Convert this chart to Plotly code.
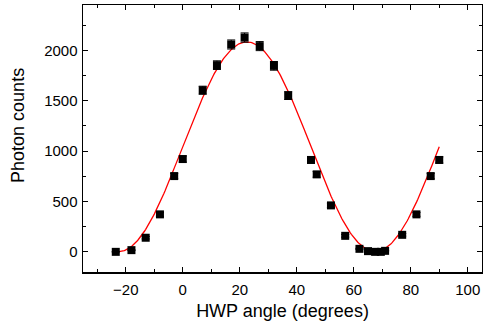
import numpy as np
import plotly.graph_objects as go

# Measured data
angles = [-23.5, -18, -13, -8, -3, 0, 7, 12, 17, 21.7, 27, 32, 37,
          45, 47, 52, 57, 62, 65, 67.5, 69.5, 71, 77, 82, 87, 90]
counts = [0, 17, 140, 372, 752, 921, 1604, 1853, 2058, 2127, 2042, 1846, 1551,
          912, 769, 461, 159, 30, 7, 0, 0, 10, 169, 372, 752, 912]
errors = [0, 4, 12, 19, 27, 30, 40, 43, 45, 46, 45, 43, 39,
          30, 28, 21, 13, 5, 3, 0, 0, 3, 13, 19, 27, 30]

# Fit parameters (Malus-type fit)
fit_amp = 2080
fit_center = 22.5
fit_offset = 3
fit_start, fit_end = -22.4, 90

x_fit = np.linspace(fit_start, fit_end, 300)
y_fit = fit_amp * np.cos(np.radians(2 * (x_fit - fit_center))) ** 2 + fit_offset

fig = go.Figure()
fig.add_trace(go.Scatter(
    x=x_fit, y=y_fit, mode="lines",
    line=dict(color="#ff0000", width=1.3),
    showlegend=False, hoverinfo="skip"))
fig.add_trace(go.Scatter(
    x=angles, y=counts, mode="markers",
    marker=dict(symbol="square", size=8, color="black"),
    error_y=dict(type="data", array=errors, visible=True,
                 color="black", thickness=1, width=4),
    showlegend=False))

font_family = "Liberation Sans, Arial, sans-serif"
axis_common = dict(
    showline=True, linecolor="black", linewidth=1.5, mirror="allticks",
    ticks="inside", ticklen=5, tickwidth=1, tickcolor="black",
    showgrid=False, zeroline=False, automargin=False,
    tickfont=dict(family=font_family, size=15, color="black"),
)

fig.update_layout(
    width=483, height=324,
    margin=dict(l=83, r=1, t=5, b=52, autoexpand=False),
    paper_bgcolor="white", plot_bgcolor="white",
    font=dict(family=font_family, color="black"),
    xaxis=dict(
        range=[-35, 105], tickvals=[-20, 0, 20, 40, 60, 80, 100],
        minor=dict(tickvals=[-30, -10, 10, 30, 50, 70, 90], ticks="inside",
                   ticklen=3, tickcolor="black", tickwidth=1),
        title=dict(text="HWP angle (degrees)", font=dict(size=18), standoff=8),
        ticklabelstandoff=3,
        **axis_common),
    yaxis=dict(
        range=[-200, 2450], tickvals=[0, 500, 1000, 1500, 2000],
        minor=dict(tickvals=[-250, 250, 750, 1250, 1750, 2250], ticks="inside",
                   ticklen=3, tickcolor="black", tickwidth=1),
        ticklabelstandoff=1,
        **axis_common),
    annotations=[dict(
        text="Photon counts", textangle=-90, showarrow=False,
        xref="paper", yref="paper", x=0, y=0.547, xanchor="center",
        yanchor="middle", xshift=-65,
        font=dict(family=font_family, size=18, color="black"))],
)

fig.write_html(
    "out.html",
    config={"displayModeBar": False, "staticPlot": True},
    post_script="document.body.style.margin='0';document.body.style.overflow='hidden';",
)
